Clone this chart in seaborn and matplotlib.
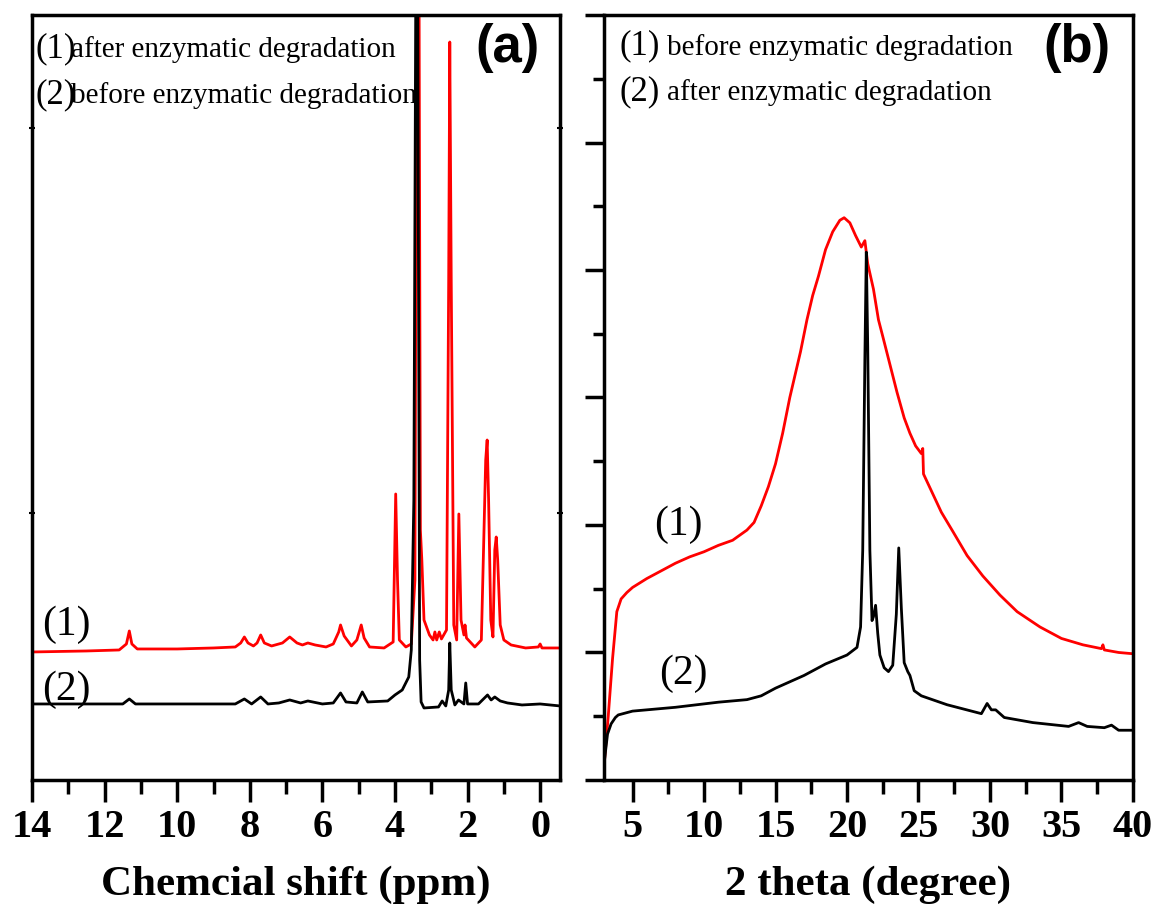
import matplotlib
matplotlib.use("Agg")
import matplotlib.pyplot as plt
from matplotlib.ticker import MultipleLocator, NullFormatter
import seaborn as sns

# (a) 1H NMR, chemical shift (ppm) vs intensity (arb.)
nmr_after_x = [14.0, 12.5, 11.6, 11.4, 11.32, 11.25, 11.1, 10.0, 9.0, 8.4, 8.25, 8.15, 8.05, 7.9, 7.8, 7.7,
               7.6, 7.4, 7.1, 6.9, 6.7, 6.55, 6.4, 6.2, 5.9, 5.7, 5.55, 5.5, 5.4, 5.2, 5.05, 4.93, 4.85, 4.7,
               4.3, 4.05, 3.98, 3.93, 3.88, 3.7, 3.55, 3.45, 3.40, 3.34, 3.30, 3.26, 3.2, 3.05, 2.95, 2.9,
               2.85, 2.78, 2.72, 2.58, 2.52, 2.49, 2.45, 2.38, 2.3, 2.24, 2.18, 2.1, 2.07, 2.03, 1.8, 1.62,
               1.50, 1.46, 1.42, 1.36, 1.30, 1.25, 1.21, 1.17, 1.10, 1.0, 0.8, 0.4, 0.05, 0.0, -0.05, -0.55]
nmr_after_y = [1.28, 1.29, 1.30, 1.36, 1.49, 1.36, 1.31, 1.31, 1.32, 1.33, 1.37, 1.43, 1.37, 1.34, 1.37, 1.45,
               1.37, 1.34, 1.37, 1.43, 1.37, 1.35, 1.37, 1.35, 1.33, 1.36, 1.48, 1.55, 1.44, 1.34, 1.40, 1.55, 1.42, 1.33,
               1.32, 1.38, 2.86, 2.0, 1.40, 1.33, 1.36, 2.0, 8.5, 8.5, 2.5, 2.2, 1.6, 1.45, 1.40, 1.48,
               1.40, 1.48, 1.41, 1.5, 5.0, 7.38, 5.0, 1.55, 1.40, 2.66, 1.6, 1.45, 1.55, 1.42, 1.33, 1.40,
               3.2, 3.4, 2.8, 1.6, 1.43, 2.3, 2.43, 2.2, 1.55, 1.40, 1.35, 1.32, 1.33, 1.36, 1.32, 1.32]

nmr_before_x = [14.0, 11.5, 11.32, 11.15, 8.4, 8.15, 7.95, 7.7, 7.5, 7.2, 6.9, 6.6, 6.4, 6.0, 5.7, 5.5, 5.35,
                5.05, 4.9, 4.75, 4.2, 4.0, 3.8, 3.62, 3.55, 3.48, 3.42, 3.38, 3.32, 3.28, 3.2, 2.8, 2.7, 2.6,
                2.52, 2.49, 2.45, 2.35, 2.25, 2.1, 2.05, 2.0, 1.7, 1.45, 1.35, 1.25, 1.1, 0.9, 0.5, 0.0, -0.55]
nmr_before_y = [0.76, 0.76, 0.81, 0.76, 0.76, 0.81, 0.76, 0.83, 0.76, 0.77, 0.80, 0.77, 0.79, 0.76, 0.77, 0.87, 0.78,
                0.77, 0.88, 0.78, 0.79, 0.85, 0.90, 1.03, 1.3, 2.8, 8.5, 8.5, 1.2, 0.78, 0.72, 0.73, 0.79, 0.74,
                0.9, 1.37, 0.9, 0.75, 0.80, 0.76, 0.97, 0.76, 0.76, 0.85, 0.80, 0.83, 0.79, 0.77, 0.75, 0.76, 0.74]

# (b) XRD, 2 theta (degree) vs intensity (arb.)
xrd_before_x = [3.0, 3.3, 3.6, 3.9, 4.2, 4.6, 5.0, 6.0, 7.0, 8.0, 9.0, 10.0, 11.0, 12.0, 13.0, 13.5, 14.0,
                14.5, 15.0, 15.5, 16.0, 16.75, 17.2, 17.6, 18.0, 18.5, 19.0, 19.5, 19.8, 20.2, 20.6, 21.0,
                21.25, 21.45, 21.85, 22.2, 22.5, 23.0, 23.5, 24.0, 24.4, 24.8, 25.2, 25.3, 25.35, 25.85,
                26.6, 27.4, 28.4, 29.5, 30.7, 31.9, 33.5, 35.0, 36.5, 37.8, 37.9, 38.0, 39.0, 40.0]
xrd_before_y = [0.10, 0.5, 0.95, 1.32, 1.42, 1.47, 1.51, 1.58, 1.64, 1.70, 1.75, 1.79, 1.84, 1.88, 1.96, 2.02, 2.15,
                2.30, 2.48, 2.72, 3.0, 3.36, 3.61, 3.80, 3.95, 4.16, 4.30, 4.39, 4.41, 4.37, 4.27, 4.18,
                4.23, 4.05, 3.85, 3.61, 3.48, 3.26, 3.04, 2.84, 2.72, 2.62, 2.56, 2.60, 2.40, 2.28,
                2.10, 1.95, 1.76, 1.60, 1.45, 1.32, 1.20, 1.11, 1.06, 1.03, 1.06, 1.02, 1.00, 0.99]

xrd_after_x = [3.0, 3.25, 3.5, 3.8, 4.0, 5.0, 8.0, 11.0, 13.0, 14.0, 15.0, 16.0, 17.0, 18.5, 20.0, 20.7, 20.95,
               21.1, 21.25, 21.35, 21.45, 21.6, 21.75, 21.85, 22.0, 22.15, 22.3, 22.6, 22.9, 23.2, 23.45, 23.62,
               23.8, 24.0, 24.25, 24.4, 24.7, 25.2, 27.0, 29.4, 29.8, 30.1, 30.4, 31.0, 33.0, 35.5, 36.2,
               36.8, 38.0, 38.5, 39.0, 40.0]
xrd_after_y = [0.12, 0.36, 0.44, 0.49, 0.51, 0.54, 0.57, 0.61, 0.63, 0.66, 0.72, 0.77, 0.82, 0.91, 0.98, 1.04, 1.2,
               1.8, 3.3, 4.14, 3.4, 1.8, 1.25, 1.28, 1.37, 1.15, 0.98, 0.88, 0.85, 0.9, 1.3, 1.82,
               1.35, 0.92, 0.85, 0.82, 0.70, 0.66, 0.59, 0.52, 0.60, 0.55, 0.55, 0.49, 0.45, 0.42, 0.45,
               0.42, 0.41, 0.43, 0.39, 0.39]

sns.set_style("ticks")
plt.rcParams["font.family"] = ["Liberation Serif", "DejaVu Serif"]
plt.rcParams.update({"text.color": "black", "axes.edgecolor": "black",
                     "xtick.color": "black", "ytick.color": "black",
                     "axes.labelcolor": "black"})

fig = plt.figure(figsize=(11.57, 9.10), dpi=100)
ax1 = fig.add_axes([0.0277, 0.1429, 0.4564, 0.8406])
ax2 = fig.add_axes([0.5220, 0.1429, 0.4572, 0.8406])

RED = "#ff0000"
lw = 2.0

sns.lineplot(x=nmr_after_x, y=nmr_after_y, ax=ax1, color=RED, lw=lw, estimator=None, sort=False)
sns.lineplot(x=nmr_before_x, y=nmr_before_y, ax=ax1, color="black", lw=lw, estimator=None, sort=False)
sns.lineplot(x=xrd_before_x, y=xrd_before_y, ax=ax2, color=RED, lw=lw, estimator=None, sort=False)
sns.lineplot(x=xrd_after_x, y=xrd_after_y, ax=ax2, color="black", lw=lw, estimator=None, sort=False)

tick_font = dict(family="Liberation Serif", weight="bold", size=29)
label_font = dict(family="Liberation Serif", weight="bold", size=31)

# panel (a)
ax1.set_xlim(14, -0.55)
ax1.set_ylim(0, 7.65)
ax1.xaxis.set_major_locator(MultipleLocator(2))
ax1.xaxis.set_minor_locator(MultipleLocator(1))
ax1.set_yticks([2.67, 6.52])
ax1.yaxis.set_major_formatter(NullFormatter())
ax1.tick_params(axis="x", which="major", direction="out", length=16, width=2.5, pad=5)
ax1.tick_params(axis="x", which="minor", direction="out", length=10, width=2.5)
ax1.tick_params(axis="y", which="major", direction="inout", length=4, width=1.5, right=True)
ax1.set_xlabel("Chemcial shift (ppm)", fontdict=label_font, labelpad=14)

# panel (b)
ax2.set_xlim(3, 40)
ax2.set_ylim(0, 6)
ax2.xaxis.set_major_locator(MultipleLocator(5))
ax2.xaxis.set_minor_locator(MultipleLocator(2.5))
ax2.yaxis.set_major_locator(MultipleLocator(1))
ax2.yaxis.set_minor_locator(MultipleLocator(0.5))
ax2.yaxis.set_major_formatter(NullFormatter())
ax2.tick_params(axis="x", which="major", direction="out", length=16, width=2.5, pad=5)
ax2.tick_params(axis="x", which="minor", direction="out", length=10, width=2.5)
ax2.tick_params(axis="y", which="major", direction="out", length=14, width=2.5)
ax2.tick_params(axis="y", which="minor", direction="out", length=8, width=2.5)
ax2.set_xlabel("2 theta (degree)", fontdict=label_font, labelpad=14)

for ax in (ax1, ax2):
    for s in ax.spines.values():
        s.set_linewidth(2.5)
        s.set_visible(True)
    for lab in ax.get_xticklabels():
        lab.set_fontproperties(tick_font)
        lab.set_fontsize(29)
        lab.set_fontweight("bold")

# header notes
ax1.text(0.006, 0.945, "(1)", transform=ax1.transAxes, fontsize=25, va="baseline")
ax1.text(0.074, 0.945, "after enzymatic degradation", transform=ax1.transAxes, fontsize=21, va="baseline")
ax1.text(0.006, 0.885, "(2)", transform=ax1.transAxes, fontsize=25, va="baseline")
ax1.text(0.074, 0.885, "before enzymatic degradation", transform=ax1.transAxes, fontsize=21, va="baseline")
ax2.text(0.03, 0.948, "(1)", transform=ax2.transAxes, fontsize=25, va="baseline")
ax2.text(0.12, 0.948, "before enzymatic degradation", transform=ax2.transAxes, fontsize=21, va="baseline")
ax2.text(0.03, 0.889, "(2)", transform=ax2.transAxes, fontsize=25, va="baseline")
ax2.text(0.12, 0.889, "after enzymatic degradation", transform=ax2.transAxes, fontsize=21, va="baseline")

ax1.text(0.962, 0.99, "(a)", transform=ax1.transAxes, ha="right", va="top",
         family="Liberation Sans", weight="bold", fontsize=38)
ax2.text(0.957, 0.99, "(b)", transform=ax2.transAxes, ha="right", va="top",
         family="Liberation Sans", weight="bold", fontsize=38)

# curve labels
ax1.text(0.02, 0.19, "(1)", transform=ax1.transAxes, fontsize=30, va="baseline")
ax1.text(0.02, 0.105, "(2)", transform=ax1.transAxes, fontsize=30, va="baseline")
ax2.text(0.095, 0.32, "(1)", transform=ax2.transAxes, fontsize=30, va="baseline")
ax2.text(0.105, 0.125, "(2)", transform=ax2.transAxes, fontsize=30, va="baseline")

fig.savefig("out.png", dpi=100)
